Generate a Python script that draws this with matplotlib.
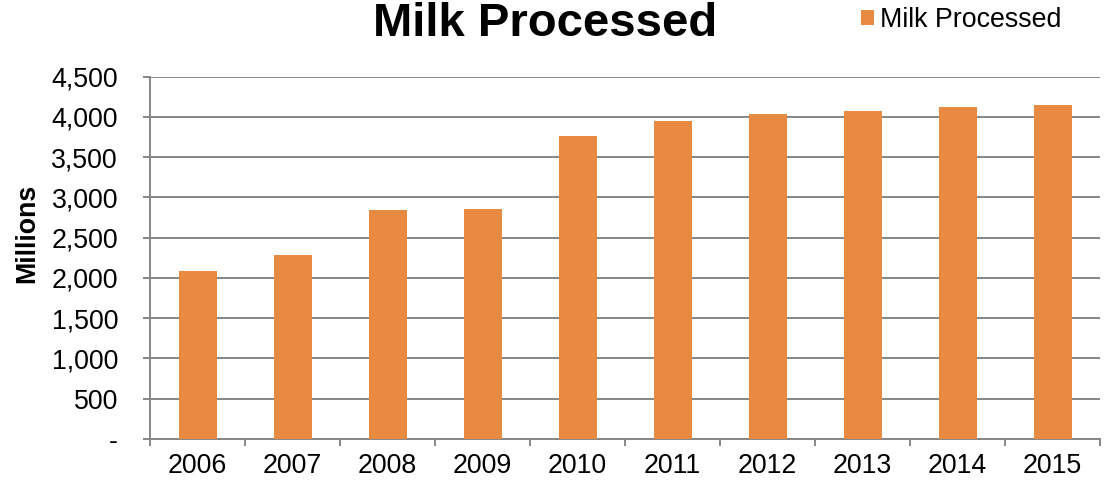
import matplotlib
matplotlib.use("Agg")
import matplotlib.pyplot as plt
import numpy as np

plt.rcParams['font.family'] = ['Liberation Sans', 'DejaVu Sans']

# data (millions)
years = ['2006', '2007', '2008', '2009', '2010', '2011', '2012', '2013', '2014', '2015']
milk_processed = [2090, 2285, 2850, 2860, 3760, 3945, 4035, 4075, 4120, 4145]
y_ticks = [0, 500, 1000, 1500, 2000, 2500, 3000, 3500, 4000, 4500]
y_tick_labels = ['-', '500', '1,000', '1,500', '2,000', '2,500', '3,000', '3,500', '4,000', '4,500']

bar_color = '#E98A43'
grid_color = '#868686'
fs = 19.3

fig = plt.figure(figsize=(11.05, 4.84), dpi=100)
ax = fig.add_axes([150 / 1105, 45 / 484, 950 / 1105, 362.3 / 484])

x = np.arange(len(years))
ax.bar(x, milk_processed, width=0.4, color=bar_color, zorder=3, label='Milk Processed')

ax.set_xlim(-0.5, len(years) - 0.5)
ax.set_ylim(0, 4500)
ax.set_yticks(y_ticks)
ax.set_yticklabels(y_tick_labels, fontsize=fs)
ax.set_xticks(x)
ax.set_xticklabels(years, fontsize=fs)
ax.set_xticks(np.arange(-0.5, len(years)), minor=True)

ax.grid(axis='y', color=grid_color, linewidth=1.4, zorder=0)
ax.tick_params(axis='y', length=5, width=1.4, color=grid_color, pad=18)
ax.tick_params(axis='x', which='major', length=0, pad=10)
ax.tick_params(axis='x', which='minor', length=5, width=1.4, color=grid_color)

for side in ['top', 'right']:
    ax.spines[side].set_visible(False)
for side in ['left', 'bottom']:
    ax.spines[side].set_color(grid_color)
    ax.spines[side].set_linewidth(1.4)

fig.text(545 / 1105, 1 - 36 / 484, 'Milk Processed', fontsize=34, fontweight='bold',
         ha='center', va='baseline')
fig.text(27 / 1105, 1 - 233 / 484, 'Millions', fontsize=fs, fontweight='bold',
         rotation=90, ha='center', va='center')

fig.legend(loc='center left', bbox_to_anchor=(861 / 1105, 1 - 20 / 484), frameon=False,
           fontsize=fs, handlelength=0.47, handleheight=0.47, handletextpad=0.25,
           borderpad=0, borderaxespad=0)

fig.savefig('out.png', dpi=100)
